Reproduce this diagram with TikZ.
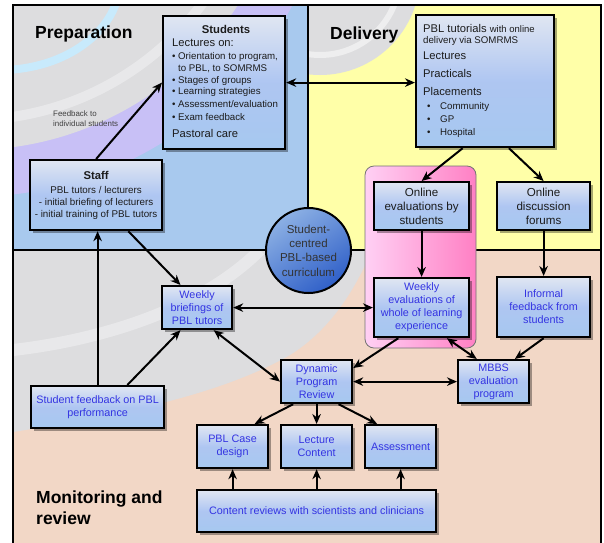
\documentclass[tikz,border=0pt]{standalone}
\usepackage{fontspec}
\setmainfont{Liberation Sans}
\usetikzlibrary{arrows.meta,shadows,calc}
\definecolor{prepblue}{RGB}{168,201,238}
\definecolor{delyellow}{RGB}{255,255,168}
\definecolor{monpeach}{RGB}{242,215,198}
\definecolor{swgrey}{RGB}{221,221,223}
\definecolor{swlav}{RGB}{200,192,246}
\definecolor{swcyan}{RGB}{200,234,252}
\definecolor{boxblue}{RGB}{166,200,240}
\definecolor{boxtop}{RGB}{224,230,242}
\definecolor{txtblue}{RGB}{52,52,226}
\definecolor{txtdark}{RGB}{28,28,28}
\definecolor{pinkL}{RGB}{255,208,244}
\definecolor{pinkR}{RGB}{255,128,196}
\definecolor{circL}{RGB}{140,176,228}
\definecolor{circD}{RGB}{48,96,200}
\tikzset{
  box/.style={draw=black, line width=2.2pt, top color=boxtop, bottom color=boxblue,
    middle color=boxblue!75!swlav, inner sep=0pt, anchor=north west, align=center,
    drop shadow={shadow xshift=2.5pt, shadow yshift=-2.5pt, fill=black, opacity=0.35}},
  mon/.style={box, text=txtblue, font=\fontsize{10.8}{13}\selectfont},
  dbox/.style={box, text=txtdark, font=\fontsize{11.6}{14}\selectfont},
  arr/.style={line width=2pt, -{Stealth[length=10pt,width=8.5pt]}},
  darr/.style={line width=2pt, {Stealth[length=10pt,width=8.5pt]}-{Stealth[length=10pt,width=8.5pt]}},
  regtitle/.style={font=\fontsize{17.5}{21}\selectfont\bfseries, text=black, anchor=west, inner sep=0pt, align=left},
  tl/.style={anchor=west, inner sep=0pt, text=txtdark},
  big/.style={tl, font=\fontsize{11.2}{13}\selectfont},
  small/.style={tl, font=\fontsize{9.7}{12}\selectfont},
  frame/.style={line width=1.8pt, black},
}
\begin{document}
\begin{tikzpicture}[x=1pt,y=-1pt]
\useasboundingbox (0,0) rectangle (604,542);
\fill[white] (0,0) rectangle (604,542);
% ---- preparation background
\begin{scope}
\clip (13,5) rectangle (308,250);
\fill[prepblue] (13,5) rectangle (308,250);
\fill[swlav] (-30,-170) circle (367pt);
\fill[swgrey] (-30,-170) circle (320pt);
\draw[swcyan, line width=8pt] (0,-20) ellipse [x radius=120pt, y radius=90pt];
\draw[white, opacity=.35, line width=10pt] (-30,-170) circle (290pt);
\end{scope}
% ---- delivery background
\begin{scope}
\clip (308,5) rectangle (601,250);
\fill[delyellow] (308,5) rectangle (601,250);
\fill[swgrey] (320,-25) circle (100pt);
\draw[white, opacity=.5, line width=6pt] (320,-25) circle (80pt);
\end{scope}
% ---- monitoring background
\begin{scope}
\clip (13,250) rectangle (601,545);
\fill[monpeach] (13,250) rectangle (601,545);
\fill[swgrey] (13,250) -- (13,432) .. controls (120,415) and (220,395) .. (290,355)
  .. controls (330,330) and (355,290) .. (372,250) -- cycle;
\draw[white, opacity=.35, line width=12pt] (13,350) .. controls (100,340) and (200,310) .. (260,250);
\end{scope}
% ---- frame and dividers
\draw[frame] (13,545) -- (13,5) -- (601,5) -- (601,545);
\draw[frame] (13,250) -- (601,250);
\draw[frame] (308,5) -- (308,250);
% ---- titles
\node[regtitle] (tPrep) at (35,34) {Preparation};
\node[regtitle] (tDel) at (330,35) {Delivery};
\node[regtitle] (tMon) at (36,507.5) {Monitoring and\\review};
\node[tl, align=left, font=\fontsize{7.9}{10}\selectfont, text=black!75] (fbtxt) at (53,119) {Feedback to\\individual students};
% ---- pink group
\draw[draw=black!55, line width=0.8pt, rounded corners=9pt, left color=pinkL, right color=pinkR] (365,166) rectangle (476,348);
% ---- central circle
\node[circle, draw=black, line width=2pt, minimum size=85pt, inner sep=0pt, top color=circL, bottom color=circD, shading angle=35, align=center, text=black!80, font=\fontsize{11.5}{14.3}\selectfont] (ctr) at (308.5,250.5) {Student-\\centred\\PBL-based\\curriculum};
% ---- preparation boxes
\node[box, minimum width=122pt, minimum height=133pt] (students) at (162,15) {};
\node[tl, anchor=center, font=\fontsize{11.3}{13}\selectfont\bfseries] (stT) at (226,29) {Students};
\node[big] (st1) at (172,43) {Lectures on:};
\node[small] (st2) at (172,57) {\makebox[6pt][l]{\textbullet}Orientation to program,};
\node[small] (st3) at (172,69) {\makebox[6pt][l]{}to PBL, to SOMRMS};
\node[small] (st4) at (172,81) {\makebox[6pt][l]{\textbullet}Stages of groups};
\node[small] (st5) at (172,92) {\makebox[6pt][l]{\textbullet}Learning strategies};
\node[small] (st6) at (172,104) {\makebox[6pt][l]{\textbullet}Assessment/evaluation};
\node[small] (st7) at (172,117) {\makebox[6pt][l]{\textbullet}Exam feedback};
\node[big] (st8) at (172,133) {Pastoral care};
\node[box, text=txtdark, font=\fontsize{9.8}{12}\selectfont, minimum width=132pt, minimum height=70pt] (staff) at (29,159)
  {{\fontsize{11.3}{13}\selectfont\bfseries Staff}\\[2pt]PBL tutors / lecturers\\- initial briefing of lecturers\\- initial training of PBL tutors};
% ---- delivery boxes
\node[box, minimum width=138pt, minimum height=132pt] (pbl) at (415,14) {};
\node[big] (pb1) at (423,28) {PBL tutorials {\fontsize{9.5}{12}\selectfont with online}};
\node[small] (pb2) at (423,41) {delivery via SOMRMS};
\node[big] (pb3) at (423,56) {Lectures};
\node[big] (pb4) at (423,73) {Practicals};
\node[big] (pb5) at (423,91) {Placements};
\node[small] (pb6) at (427,107) {\makebox[13pt][l]{\textbullet}Community};
\node[small] (pb7) at (427,119) {\makebox[13pt][l]{\textbullet}GP};
\node[small] (pb8) at (427,133) {\makebox[13pt][l]{\textbullet}Hospital};
\node[dbox, minimum width=95pt, minimum height=48pt] (oe) at (373,181) {Online\\evaluations by\\students};
\node[dbox, minimum width=93pt, minimum height=48pt] (disc) at (496,181) {Online\\discussion\\forums};
% ---- monitoring boxes
\node[mon, minimum width=70pt, minimum height=43pt] (brf) at (161,285) {Weekly\\briefings of\\PBL tutors};
\node[mon, minimum width=95pt, minimum height=59pt] (we) at (373,277) {Weekly\\evaluations of\\whole of learning\\experience};
\node[mon, minimum width=93pt, minimum height=60pt] (inf) at (496,276) {Informal\\feedback from\\students};
\node[mon, minimum width=133pt, minimum height=42pt] (sfb) at (30,385) {Student feedback on PBL\\performance};
\node[mon, minimum width=71pt, minimum height=43pt] (dyn) at (280,359) {Dynamic\\Program\\Review};
\node[mon, minimum width=71pt, minimum height=43pt] (mbbs) at (457,359) {MBBS\\evaluation\\program};
\node[mon, minimum width=71pt, minimum height=43pt] (case) at (196,424) {PBL Case\\design};
\node[mon, minimum width=71pt, minimum height=43pt] (lec) at (280,424) {Lecture\\Content};
\node[mon, minimum width=71pt, minimum height=43pt] (asm) at (364,424) {Assessment};
\node[mon, minimum width=239pt, minimum height=42pt] (cr) at (196,489) {Content reviews with scientists and clinicians};
% ---- connectors
\draw[arr] (staff.north) -- (students.west);
\draw[darr] (students.east) -- (students.east -| pbl.west);
\draw[arr] ($(pbl.south west)!0.34!(pbl.south east)$) -- (oe.north);
\draw[arr] ($(pbl.south west)!0.67!(pbl.south east)$) -- (disc.north);
\draw[arr] (oe.south) -- (we.north);
\draw[arr] (disc.south) -- (inf.north);
\draw[arr] ($(staff.south west)!0.74!(staff.south east)$) -- ($(brf.north west)!0.27!(brf.north east)$);
\draw[arr] (sfb.north) -- (sfb.north |- staff.south);
\draw[arr] ($(sfb.north west)!0.72!(sfb.north east)$) -- ($(brf.south west)!0.27!(brf.south east)$);
\draw[darr] (brf.east) -- (brf.east -| we.west);
\draw[darr] ($(brf.south west)!0.73!(brf.south east)$) -- (dyn.west);
\draw[arr] ($(we.south west)!0.26!(we.south east)$) -- ($(dyn.north east)!0.2!(dyn.south east)$);
\draw[darr] ($(we.south west)!0.76!(we.south east)$) -- ($(mbbs.north west)!0.27!(mbbs.north east)$);
\draw[arr] (inf.south) -- ($(mbbs.north west)!0.79!(mbbs.north east)$);
\draw[darr] (dyn.east) -- (mbbs.west);
\draw[arr] ($(dyn.south west)!0.18!(dyn.south east)$) -- ($(case.north west)!0.8!(case.north east)$);
\draw[arr] (dyn.south) -- (lec.north);
\draw[arr] ($(dyn.south west)!0.8!(dyn.south east)$) -- ($(asm.north west)!0.18!(asm.north east)$);
\draw[arr] (case.south |- cr.north) -- (case.south);
\draw[arr] (lec.south |- cr.north) -- (lec.south);
\draw[arr] (asm.south |- cr.north) -- (asm.south);
\end{tikzpicture}
\end{document}
